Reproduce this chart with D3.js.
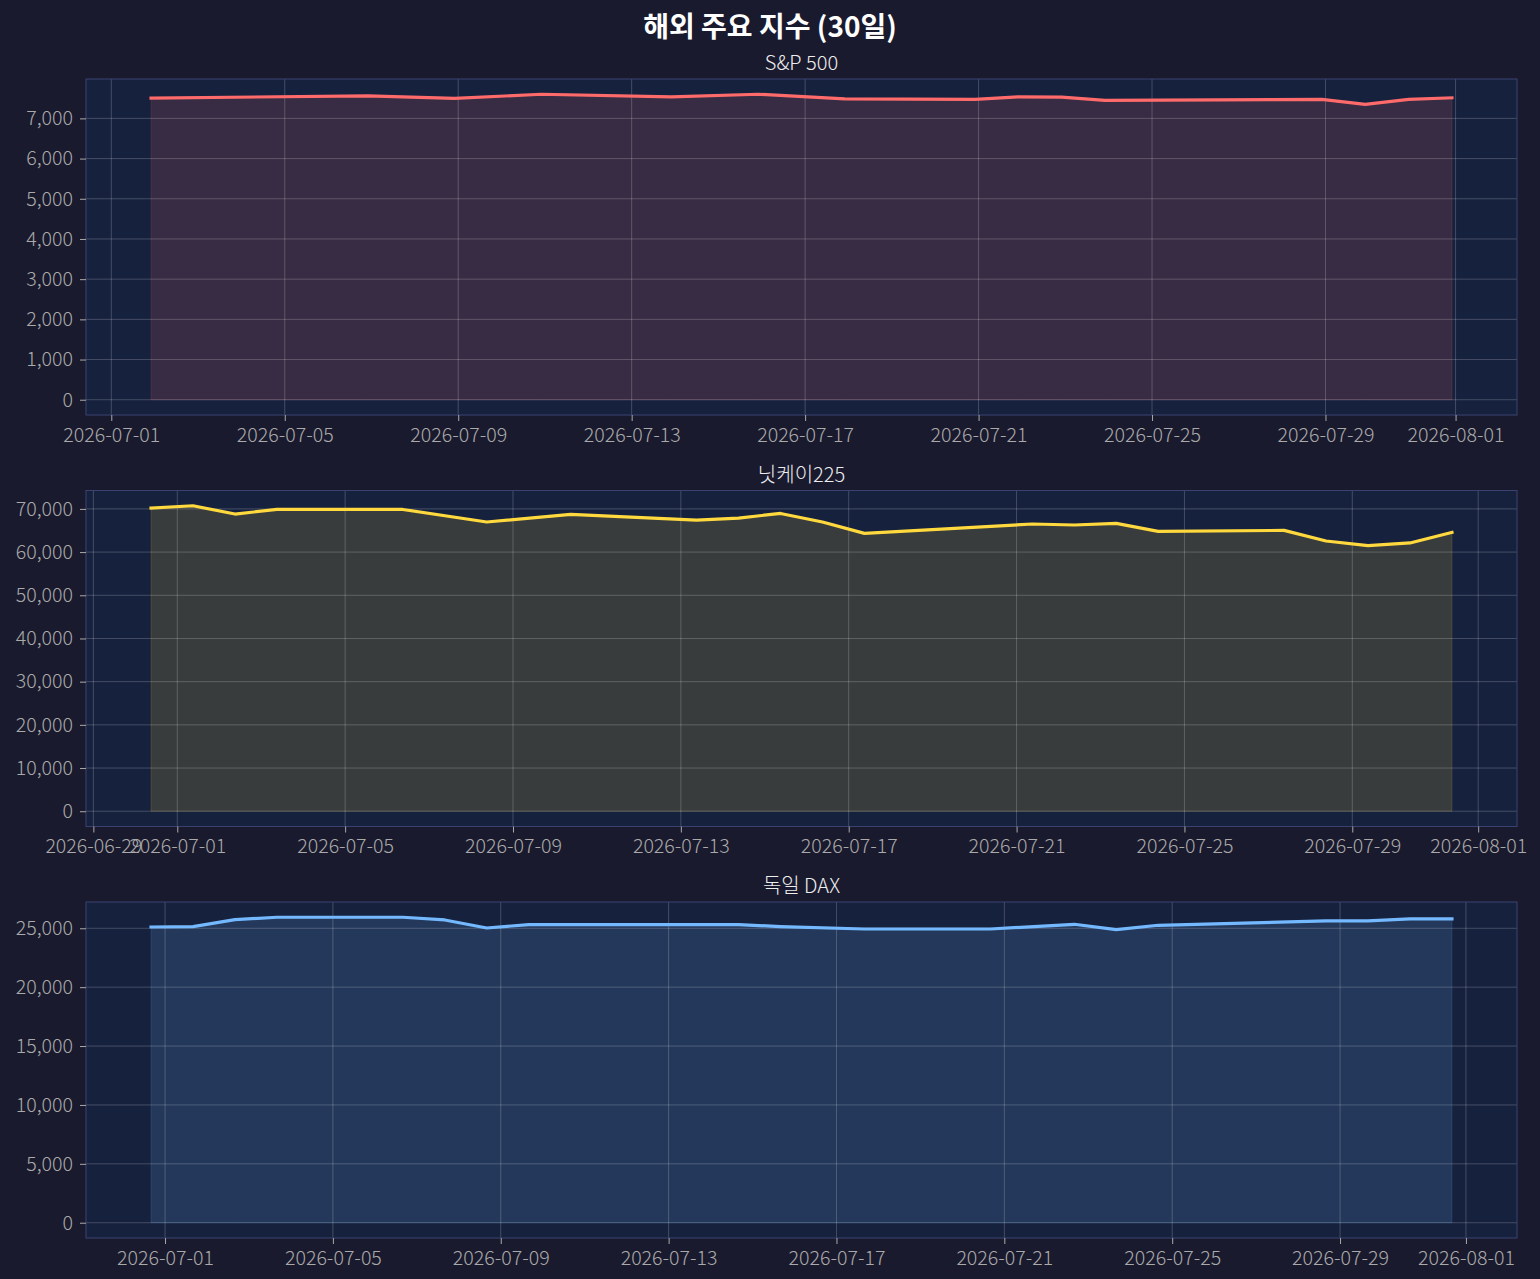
<!DOCTYPE html>
<html>
<head>
<meta charset="utf-8">
<script src="https://cdn.jsdelivr.net/npm/d3@7"></script>
<style>
    body { margin: 0; background: #1a1a2e; }
    svg { display: block; font-family: "Noto Sans CJK KR", "Noto Sans", sans-serif; }
</style>
</head>
<body>
<div class="container"></div>
<script>
const WIDTH = 1540;
const HEIGHT = 1279;
const LEFT = 86;
const RIGHT = 1517;
const PANEL_TOPS = [79, 490.5, 902];
const PANEL_H = 336;

const chartTitle = '해외 주요 지수 (30일)';
const panelTitles = ['S&P 500', '닛케이225', '독일 DAX'];
const lineColors = ['#ff6b6b', '#ffd93d', '#74b9ff'];

// S&P 500
const spDates = ['2026-07-01T22:00', '2026-07-06T22:00', '2026-07-08T22:00', '2026-07-10T22:00',
    '2026-07-13T22:00', '2026-07-15T22:00', '2026-07-17T22:00', '2026-07-20T22:00',
    '2026-07-21T22:00', '2026-07-22T22:00', '2026-07-23T22:00', '2026-07-28T22:00',
    '2026-07-29T22:00', '2026-07-30T22:00', '2026-07-31T22:00'];
const spValues = [7505, 7562, 7497, 7600, 7537, 7600, 7487, 7472,
    7537, 7530, 7448, 7472, 7348, 7472, 7512];

// 닛케이225
const nkDates = ['2026-06-30T09:00', '2026-07-01T09:00', '2026-07-02T09:00', '2026-07-03T09:00',
    '2026-07-06T09:00', '2026-07-08T09:00', '2026-07-10T09:00', '2026-07-13T09:00',
    '2026-07-14T09:00', '2026-07-15T09:00', '2026-07-16T09:00', '2026-07-17T09:00',
    '2026-07-21T09:00', '2026-07-22T09:00', '2026-07-23T09:00', '2026-07-24T09:00',
    '2026-07-27T09:00', '2026-07-28T09:00', '2026-07-29T09:00', '2026-07-30T09:00',
    '2026-07-31T09:00'];
const nkValues = [70195, 70725, 68808, 69870, 69870, 66961, 68716, 67423,
    67885, 68947, 66961, 64329, 66499, 66268, 66638, 64791,
    65022, 62574, 61490, 62112, 64560];

// 독일 DAX
const daxDates = ['2026-06-30T16:00', '2026-07-01T16:00', '2026-07-02T16:00', '2026-07-03T16:00',
    '2026-07-06T16:00', '2026-07-07T16:00', '2026-07-08T16:00', '2026-07-09T16:00',
    '2026-07-14T16:00', '2026-07-15T16:00', '2026-07-17T16:00', '2026-07-20T16:00',
    '2026-07-22T16:00', '2026-07-23T16:00', '2026-07-24T16:00', '2026-07-28T16:00',
    '2026-07-29T16:00', '2026-07-30T16:00', '2026-07-31T16:00'];
const daxValues = [25110, 25144, 25739, 25934, 25934, 25705, 25025, 25313,
    25313, 25144, 24939, 24939, 25339, 24888, 25254, 25620,
    25620, 25790, 25790];

const tickDays = [1, 5, 9, 13, 17, 21, 25, 29];

var parseTime = d3.timeParse('%Y-%m-%dT%H:%M');

var svg = d3.select('.container').append('svg')
    .attr('width', WIDTH)
    .attr('height', HEIGHT);

svg.append('rect')
    .attr('width', WIDTH)
    .attr('height', HEIGHT)
    .attr('fill', '#1a1a2e');

svg.append('text')
    .attr('x', WIDTH / 2)
    .attr('y', 37)
    .attr('text-anchor', 'middle')
    .attr('fill', '#ffffff')
    .attr('font-size', 28)
    .attr('font-weight', 'bold')
    .text(chartTitle);

var drawPanel = function (idx, dates, values) {
    var data = dates.map(function (d, i) {
        return { date: parseTime(d), value: values[i] };
    });
    var top = PANEL_TOPS[idx];
    var bottom = top + PANEL_H;

    // 5% margins like matplotlib
    var xr = d3.extent(data, function (d) { return d.date; });
    var span = xr[1] - xr[0];
    var xScale = d3.scaleTime()
        .domain([new Date(+xr[0] - span * 0.05), new Date(+xr[1] + span * 0.05)])
        .range([LEFT, RIGHT]);

    var maxV = d3.max(values);
    var yScale = d3.scaleLinear()
        .domain([-maxV * 0.05, maxV * 1.05])
        .range([bottom, top]);

    // day ticks on 1,5,9.. of each month
    var xTicks = d3.timeDay.range(d3.timeDay.ceil(xScale.domain()[0]), xScale.domain()[1])
        .filter(function (d) { return tickDays.indexOf(d.getDate()) >= 0; });
    var yTicks = yScale.ticks(8).filter(function (v) { return v >= 0 && v <= yScale.domain()[1]; });

    var g = svg.append('g');

    g.append('rect')
        .attr('x', LEFT).attr('y', top)
        .attr('width', RIGHT - LEFT).attr('height', PANEL_H)
        .attr('fill', '#16213e');

    var area = d3.area()
        .x(function (d) { return xScale(d.date); })
        .y0(yScale(0))
        .y1(function (d) { return yScale(d.value); });

    g.append('path')
        .datum(data)
        .attr('d', area)
        .attr('fill', lineColors[idx])
        .attr('fill-opacity', 0.15)
        .attr('stroke', lineColors[idx])
        .attr('stroke-opacity', 0.15)
        .attr('stroke-width', 1);

    // grid
    g.selectAll('.vgrid').data(xTicks)
        .enter().append('line')
        .attr('x1', function (d) { return xScale(d); })
        .attr('x2', function (d) { return xScale(d); })
        .attr('y1', top).attr('y2', bottom)
        .attr('stroke', '#ffffff').attr('stroke-opacity', 0.2).attr('stroke-width', 1);

    g.selectAll('.hgrid').data(yTicks)
        .enter().append('line')
        .attr('x1', LEFT).attr('x2', RIGHT)
        .attr('y1', function (d) { return yScale(d); })
        .attr('y2', function (d) { return yScale(d); })
        .attr('stroke', '#ffffff').attr('stroke-opacity', 0.2).attr('stroke-width', 1);

    var line = d3.line()
        .x(function (d) { return xScale(d.date); })
        .y(function (d) { return yScale(d.value); });

    g.append('path')
        .datum(data)
        .attr('d', line)
        .attr('fill', 'none')
        .attr('stroke', lineColors[idx])
        .attr('stroke-width', 3.2)
        .attr('stroke-linejoin', 'round')
        .attr('stroke-linecap', 'square');

    // spines
    g.append('rect')
        .attr('x', LEFT).attr('y', top)
        .attr('width', RIGHT - LEFT).attr('height', PANEL_H)
        .attr('fill', 'none')
        .attr('stroke', '#3b4270')
        .attr('stroke-width', 1);

    var xAxis = d3.axisBottom(xScale)
        .tickValues(xTicks)
        .tickFormat(d3.timeFormat('%Y-%m-%d'))
        .tickSize(6)
        .tickPadding(7);

    var yAxis = d3.axisLeft(yScale)
        .tickValues(yTicks)
        .tickFormat(d3.format(','))
        .tickSize(6)
        .tickPadding(7);

    var gx = g.append('g')
        .attr('transform', 'translate(0,' + bottom + ')')
        .call(xAxis);
    var gy = g.append('g')
        .attr('transform', 'translate(' + LEFT + ',0)')
        .call(yAxis);

    [gx, gy].forEach(function (ax) {
        ax.select('.domain').remove();
        ax.selectAll('line').attr('stroke', '#aaaaaa');
        ax.selectAll('text')
            .attr('fill', '#aaaaaa')
            .attr('font-size', 19.6)
            .attr('font-weight', 300)
            .style('font-family', '"Noto Sans CJK KR", "Noto Sans", sans-serif');
    });

    svg.append('text')
        .attr('x', (LEFT + RIGHT) / 2)
        .attr('y', top - 9)
        .attr('text-anchor', 'middle')
        .attr('fill', '#eeeeee')
        .attr('font-size', 20)
        .attr('font-weight', 300)
        .text(panelTitles[idx]);
};

drawPanel(0, spDates, spValues);
drawPanel(1, nkDates, nkValues);
drawPanel(2, daxDates, daxValues);
</script>
</body>
</html>
